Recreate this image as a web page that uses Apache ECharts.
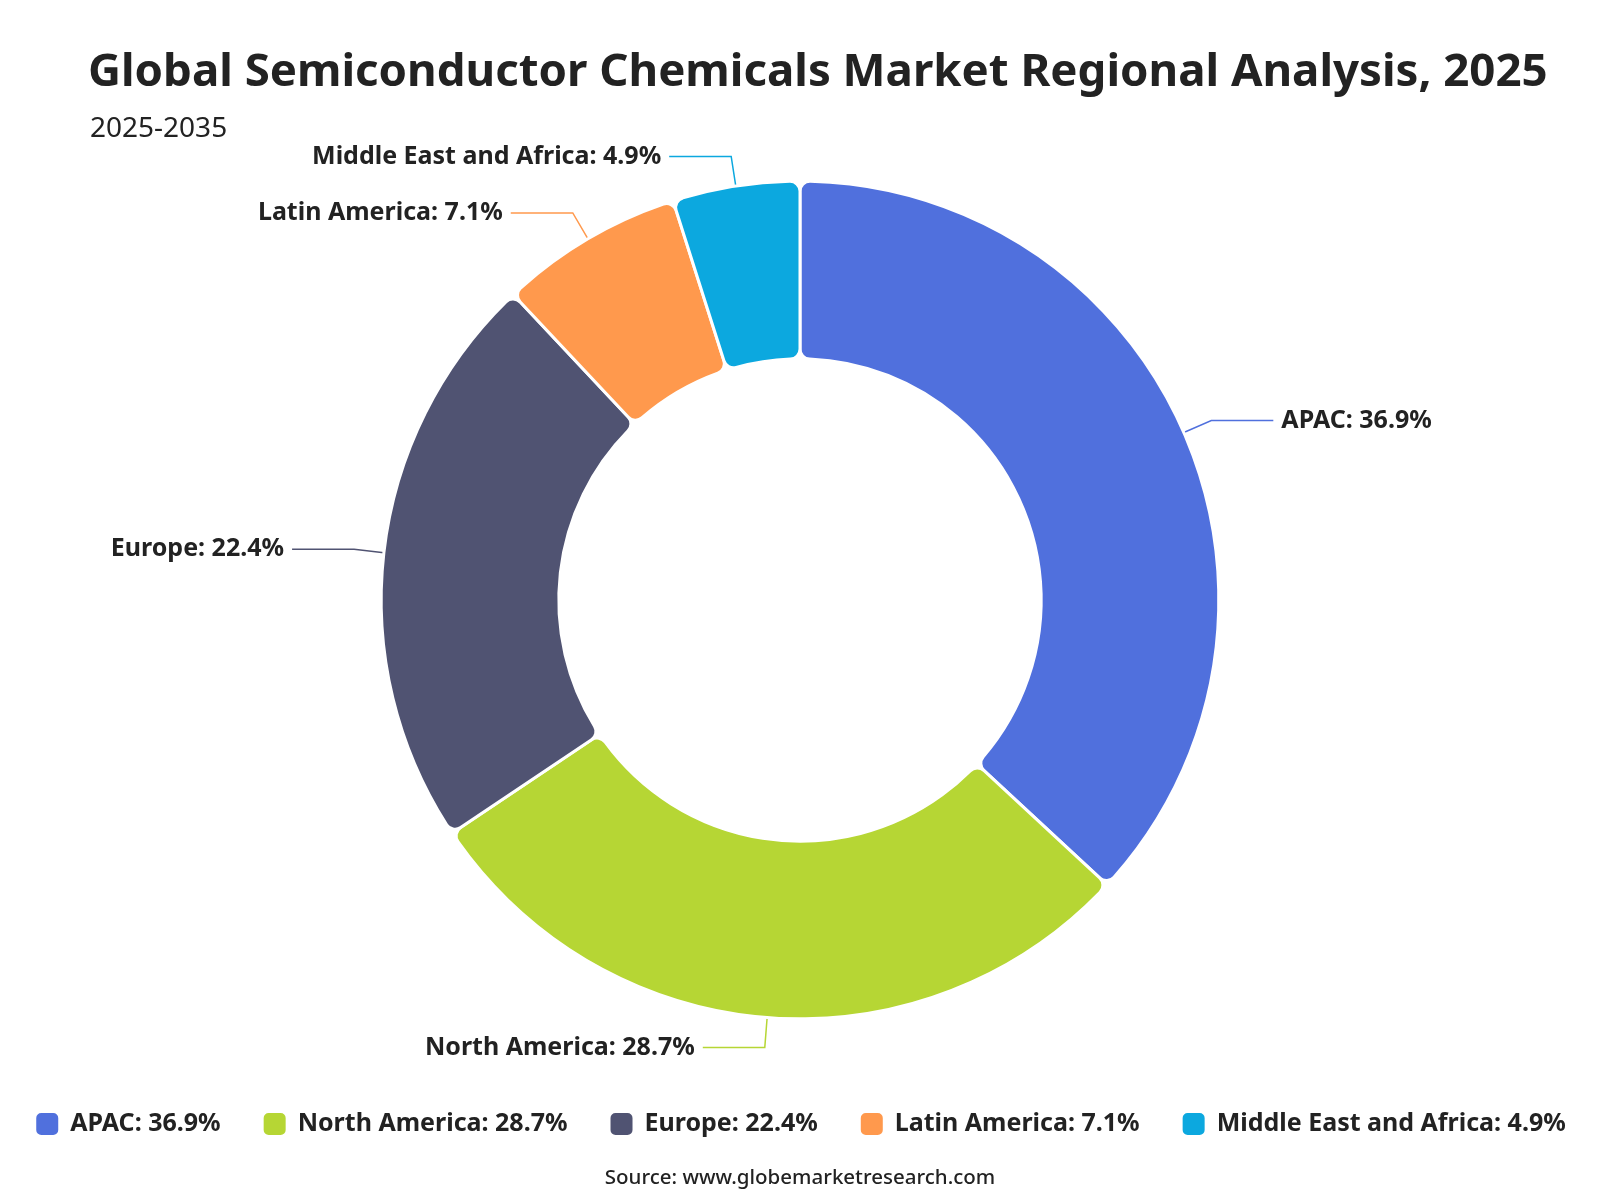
<!DOCTYPE html>
<html>
<head>
<meta charset="utf-8">
<script src="https://cdn.jsdelivr.net/npm/echarts@6/dist/echarts.min.js"></script>
<style>html,body{margin:0;padding:0;background:#fff}#c{width:1600px;height:1200px}</style>
</head>
<body>
<div id="c"></div>
<script>
const categories = ['APAC', 'North America', 'Europe', 'Latin America', 'Middle East and Africa'];
const shares = [36.9, 28.7, 22.4, 7.1, 4.9];
const colors = ['#5070dd', '#b6d634', '#505372', '#ff994d', '#0ca8df'];
const titleText = 'Global Semiconductor Chemicals Market Regional Analysis, 2025';
const subtitleText = '2025-2035';
const sourceText = 'Source: www.globemarketresearch.com';

const FONT = '"Noto Sans", "Open Sans", sans-serif';
const chart = echarts.init(document.getElementById('c'), null, {renderer: 'canvas'});
const data = categories.map((n, i) => ({name: n, value: shares[i], itemStyle: {color: colors[i]}}));
chart.setOption({
  animation: false,
  textStyle: {fontFamily: FONT},
  title: [
    {text: titleText, left: 83, top: 45, textStyle: {fontFamily: FONT, fontSize: 45.6, fontWeight: 'bold', color: '#222'}},
    {text: subtitleText, left: 85, top: 110, textStyle: {fontFamily: FONT, fontSize: 28, fontWeight: 'normal', color: '#222'}},
    {text: sourceText, left: 'center', top: 1163, textStyle: {fontFamily: FONT, fontSize: 20.5, fontWeight: 500, color: '#222'}}
  ],
  legend: {
    bottom: 58, left: 'center',
    icon: 'roundRect', itemWidth: 24, itemHeight: 24, itemGap: 41,
    formatter: function (name) { const i = categories.indexOf(name); return name + ': ' + shares[i] + '%'; },
    textStyle: {fontFamily: FONT, fontSize: 25, fontWeight: 'bold', color: '#222', padding: [0, 0, 0, 6]}
  },
  series: [{
    type: 'pie',
    center: ['50%', '50%'],
    radius: ['40.2%', '69.8%'],
    startAngle: 90,
    clockwise: true,
    data: data,
    itemStyle: {borderColor: '#fff', borderWidth: 3, borderRadius: 10},
    label: {
      formatter: function (p) { return p.name + ': ' + p.value + '%'; },
      fontFamily: FONT, fontSize: 25, fontWeight: 'bold', color: '#222',
      distanceToLabelLine: 8
    },
    labelLine: {length: 30, length2: 62, lineStyle: {width: 1.5}}
  }]
});
</script>
</body>
</html>
